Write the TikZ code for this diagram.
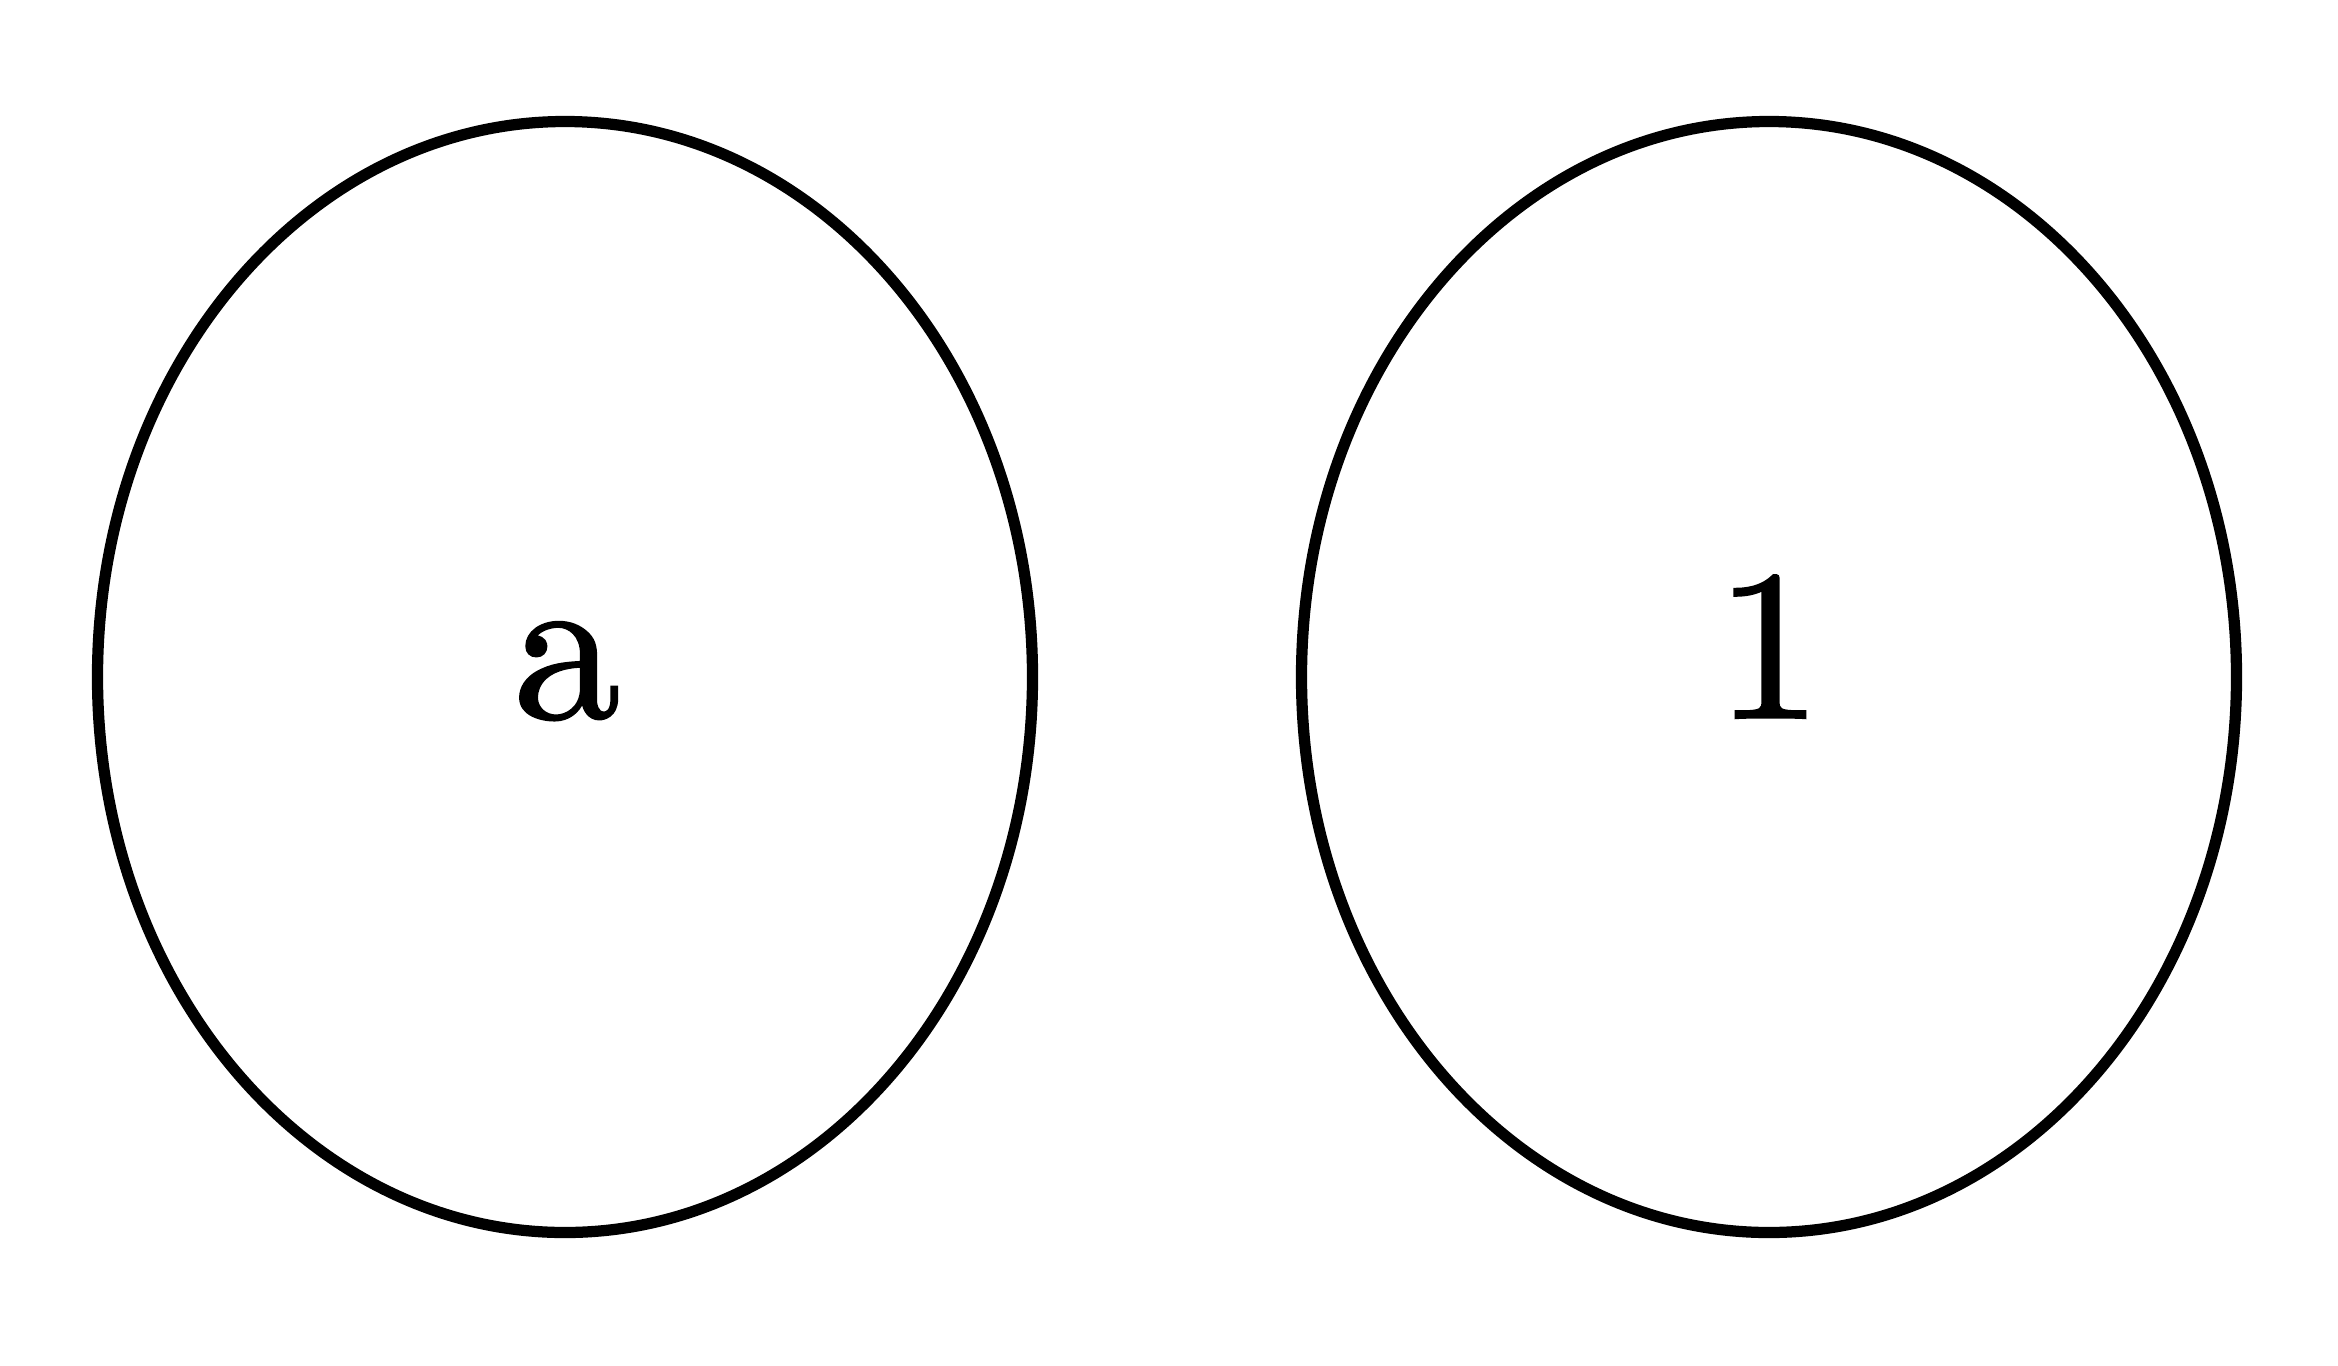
\documentclass[tikz,border=0pt]{standalone}
\usepackage{fontspec}
\newfontfamily\heavyfont[FakeBold=1.1]{lmroman10-regular.otf}
\usetikzlibrary{shapes.geometric}
\begin{document}
\begin{tikzpicture}
\tikzset{
  oval/.style={draw=black, line width=3.2pt, ellipse, minimum width=9.35cm, minimum height=11.11cm, inner sep=0pt},
  lbl/.style={font=\heavyfont\fontsize{61}{73}\selectfont, inner sep=0pt, anchor=base}
}
\useasboundingbox[fill=white] (0,0) rectangle (23.38,-13.65);
\node[oval] (ea) at (5.65,-6.77) {};
\node[oval] (e1) at (17.69,-6.77) {};
\node[lbl] (ta) at (5.67,-7.18) {a};
\node[lbl] (t1) at (17.69,-7.18) {1};
\end{tikzpicture}
\end{document}
